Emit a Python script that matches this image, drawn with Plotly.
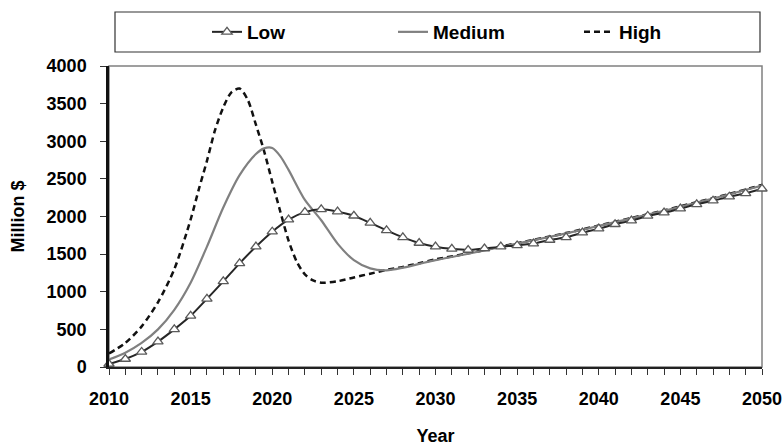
import plotly.graph_objects as go

# ---- data ----
years_low = list(range(2010, 2051))
low = [40, 106, 200, 337, 500, 680, 906, 1137, 1378, 1599,
       1798, 1958, 2058, 2095, 2064, 2010, 1915, 1815, 1723, 1648,
       1599, 1570, 1555, 1575, 1599, 1615, 1640, 1688, 1723, 1785,
       1838, 1897, 1945, 2007, 2051, 2104, 2162, 2210, 2263, 2308, 2369]

years_med = [2010, 2011, 2012, 2013, 2014, 2015, 2016, 2017, 2018, 2019,
             2019.5, 2020, 2020.5, 2021, 2022, 2023, 2024, 2025, 2026, 2027,
             2028, 2029, 2030, 2032, 2034, 2036, 2038, 2040, 2042, 2044,
             2046, 2048, 2050]
medium = [100, 190, 320, 500, 760, 1120, 1600, 2120, 2550, 2830,
          2905, 2910, 2800, 2620, 2220, 1950, 1640, 1420, 1310, 1285,
          1320, 1370, 1420, 1505, 1595, 1685, 1775, 1875, 1975, 2075,
          2185, 2295, 2410]

years_high = [2010, 2011, 2012, 2013, 2014, 2015, 2015.5, 2016, 2016.5, 2017,
              2017.5, 2018, 2018.5, 2019, 2019.5, 2020, 2020.5, 2021, 2021.5, 2022,
              2022.5, 2023, 2024, 2025, 2026, 2027, 2028, 2029, 2030, 2032,
              2034, 2036, 2038, 2040, 2042, 2044, 2046, 2048, 2050]
high = [180, 320, 540, 860, 1300, 1960, 2360, 2740, 3150, 3450,
        3650, 3700, 3550, 3220, 2870, 2460, 2060, 1680, 1400, 1230,
        1150, 1120, 1140, 1190, 1240, 1290, 1330, 1380, 1430, 1510,
        1600, 1690, 1780, 1880, 1980, 2080, 2190, 2300, 2420]

x_ticks = list(range(2010, 2051, 5))
y_ticks = list(range(0, 4001, 500))

FONT = "Liberation Sans, Arial, sans-serif"

fig = go.Figure()
fig.add_trace(go.Scatter(
    x=years_high, y=high, name="High", mode="lines", legendrank=3,
    line=dict(color="#111111", width=2.5, dash="6px,4px", shape="spline", smoothing=0.8),
    cliponaxis=False))
fig.add_trace(go.Scatter(
    x=years_med, y=medium, name="Medium", mode="lines", legendrank=2,
    line=dict(color="#808080", width=2.2, shape="spline", smoothing=0.8),
    cliponaxis=False))
fig.add_trace(go.Scatter(
    x=years_low, y=low, name="Low", mode="lines+markers", legendrank=1,
    line=dict(color="#262626", width=2, shape="spline", smoothing=0.6),
    marker=dict(symbol="triangle-up", size=9, color="white",
                line=dict(color="#5a5a5a", width=1.3)),
    cliponaxis=False))

fig.update_layout(
    width=782, height=448,
    margin=dict(l=109, r=20, t=66, b=81, autoexpand=False),
    paper_bgcolor="white", plot_bgcolor="white",
    font=dict(family=FONT, size=18, color="black", weight="bold"),
    showlegend=True,
    legend=dict(
        orientation="h", xref="container", yref="container",
        x=207 / 782, xanchor="left", y=1 - 32 / 448, yanchor="middle",
        entrywidth=141, entrywidthmode="pixels",
        font=dict(family=FONT, size=19, color="black", weight="bold"),
        bgcolor="rgba(0,0,0,0)", borderwidth=0),
    xaxis=dict(
        range=[2010, 2050], tickvals=x_ticks, ticks="outside", ticklen=6,
        tickcolor="#333333", tickwidth=1, ticklabeloverflow="allow",
        minor=dict(dtick=1, ticks="outside", ticklen=6, tickcolor="#333333", tickwidth=1),
        showline=True, linecolor="#222222", linewidth=2, showgrid=False, zeroline=False,
        ticklabelstandoff=8,
        title=dict(text="Year", standoff=22, font=dict(size=18))),
    yaxis=dict(
        range=[0, 4000], tickvals=y_ticks, ticks="outside", ticklen=6,
        tickcolor="#333333", tickwidth=1,
        showline=True, linecolor="#111111", linewidth=2.5, showgrid=False, zeroline=False,
        ticklabelstandoff=10,
        title=dict(text="Million $", standoff=18, font=dict(size=18))),
    shapes=[
        dict(type="rect", xref="paper", yref="paper", x0=0, x1=1, y0=0, y1=1,
             line=dict(color="#808080", width=1.5), layer="below"),
        dict(type="rect", xref="paper", yref="paper",
             x0=(115 - 109) / 653, x1=(760 - 109) / 653,
             y0=(367 - 52) / 301, y1=(367 - 12) / 301,
             line=dict(color="#333333", width=1.2), layer="below"),
    ],
)

fig.write_html("out.html", config={"displayModeBar": False},
               post_script="document.body.style.margin='0';document.body.style.overflow='hidden';")
